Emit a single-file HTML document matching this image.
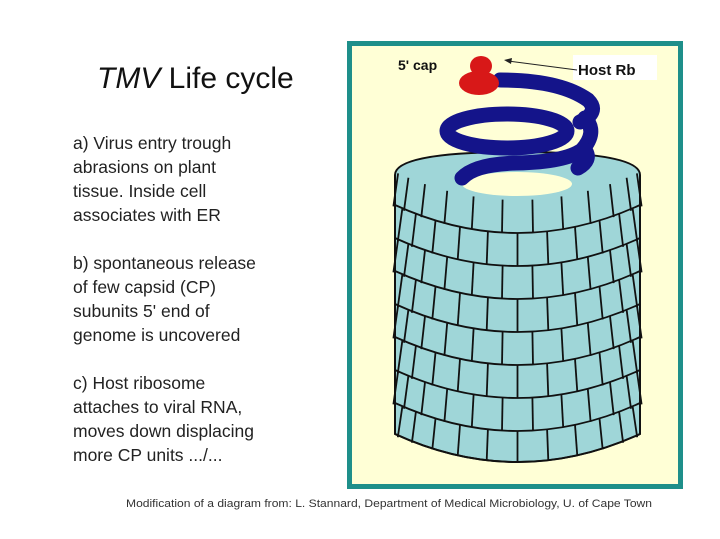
<!DOCTYPE html>
<html><head><meta charset="utf-8"><style>
html,body{margin:0;padding:0;background:#fff;}
svg{display:block;}
</style></head><body>
<svg id="s" width="720" height="539" viewBox="0 0 720 539" xmlns="http://www.w3.org/2000/svg">
<rect width="720" height="539" fill="#fff"/>
<text x="97" y="88" font-family="Liberation Sans, sans-serif" font-size="30" fill="#111"><tspan font-style="italic">TMV</tspan> Life cycle</text>
<g font-family="Liberation Sans, sans-serif" font-size="17.5" fill="#222">
<text x="73" y="149">a) Virus entry trough</text>
<text x="73" y="173">abrasions on plant</text>
<text x="73" y="197">tissue.  Inside cell</text>
<text x="73" y="221">associates with ER</text>
<text x="73" y="269">b) spontaneous release</text>
<text x="73" y="293">of few capsid  (CP)</text>
<text x="73" y="317">subunits  5' end of</text>
<text x="73" y="341">genome is uncovered</text>
<text x="73" y="389">c) Host  ribosome</text>
<text x="73" y="413">attaches to viral RNA,</text>
<text x="73" y="437">moves down displacing</text>
<text x="73" y="461">more CP units    .../...</text>
</g>
<text x="126" y="507" font-family="Liberation Sans, sans-serif" font-size="11" fill="#333" textLength="526" lengthAdjust="spacingAndGlyphs">Modification of a diagram from: L. Stannard,  Department of Medical Microbiology, U. of Cape Town</text>
<rect x="349.5" y="43.5" width="331" height="443" fill="#ffffd6" stroke="#1e8f8a" stroke-width="5"/>
<path d="M395,175 Q395,152 517,152 Q640,152 640,175 L640,434 Q517,490 395,434 Z" fill="#9fd6d8" stroke="#111" stroke-width="2"/>
<g id="lines" stroke="#111" stroke-width="1.8" fill="none"></g>
<ellipse cx="517" cy="184" rx="55" ry="12" fill="#ffffd6"/>
<g stroke="#14148a" stroke-width="15" fill="none" stroke-linecap="round">
<path d="M462,178 Q475,164 517,163 Q565,162 582,150 Q598,132 585,118"/>
<path d="M585,150 Q592,160 578,168"/>
<ellipse cx="507" cy="131" rx="60" ry="17"/>
<path d="M500,80 Q560,80 588,100 Q600,112 580,122"/>
</g>
<ellipse cx="481" cy="66" rx="11" ry="10" fill="#d81818"/>
<ellipse cx="479" cy="83" rx="20" ry="12" fill="#d81818"/>
<text x="398" y="70" font-family="Liberation Sans, sans-serif" font-size="14" font-weight="bold" fill="#111">5' cap</text>
<rect x="573" y="55" width="84" height="25" fill="#fff"/>
<text x="578" y="75" font-family="Liberation Sans, sans-serif" font-size="15" font-weight="bold" fill="#111">Host Rb</text>
<line x1="577" y1="70" x2="508" y2="61" stroke="#222" stroke-width="1"/>
<path d="M504,60 L512,58 L511,64 Z" fill="#222"/>
</svg>
<script>
(function(){
var g=document.getElementById('lines'),h='';
var cx=517.5,R=122.5,d=28;
var sides=[172,205,238,271,304,337,370,403,434];
function y(s,x){var u=(x-cx)/R;return s+d*(1-u*u);}
for(var i=1;i<sides.length;i++){
 h+='<path d="M395,'+sides[i]+' Q'+cx+','+(sides[i]+2*d)+' 640,'+sides[i]+'"/>';
}
for(var i=0;i<sides.length-1;i++){
 var off=(i%2)?7:0;
 for(var a=-77+off;a<=80;a+=14){
  var x=cx+R*Math.sin(a*Math.PI/180);
  var y1=y(sides[i],x),y2=y(sides[i+1],x);
  if(i==0 && Math.abs(x-cx)<62) y1=Math.max(y1,196);
  h+='<line x1="'+x.toFixed(1)+'" y1="'+y1.toFixed(1)+'" x2="'+(x+(x-cx)*0.04).toFixed(1)+'" y2="'+y2.toFixed(1)+'"/>';
 }
}
g.innerHTML=h;
})();
</script>
</body></html>
